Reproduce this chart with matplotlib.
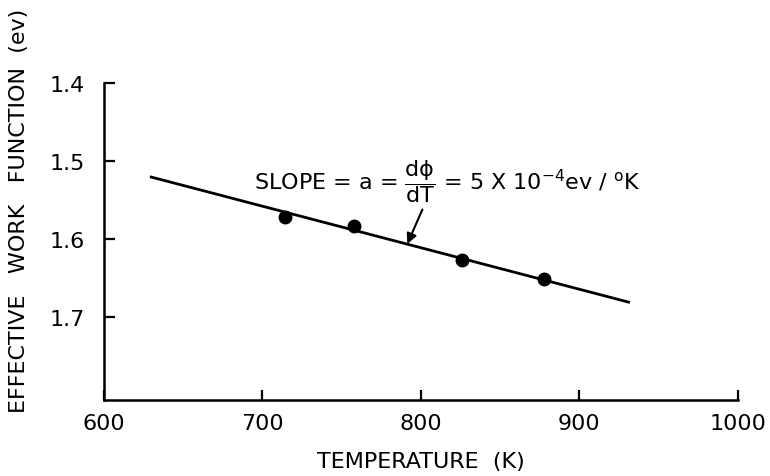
import matplotlib
matplotlib.use("Agg")
import matplotlib.pyplot as plt

# --- data ---
temp_k = [714, 758, 826, 878]
work_fn = [1.572, 1.583, 1.627, 1.651]
fit_t = [629, 932]
fit_phi = [1.520, 1.681]

x_ticks = [600, 700, 800, 900, 1000]
y_ticks = [1.4, 1.5, 1.6, 1.7]

plt.rcParams["mathtext.fontset"] = "dejavusans"
plt.rcParams["font.family"] = "DejaVu Sans"

fig = plt.figure(figsize=(7.7, 4.77), dpi=100)
ax = fig.add_axes([0.135, 0.159, 0.823, 0.665])

ax.plot(fit_t, fit_phi, color="black", lw=2.0, solid_capstyle="butt")
ax.plot(temp_k, work_fn, "o", color="black", ms=9)

ax.set_xlim(600, 1000)
ax.set_ylim(1.806, 1.4)
ax.set_xticks(x_ticks)
ax.set_yticks(y_ticks)
ax.set_yticklabels([f"{v:.1f}" for v in y_ticks])

for side in ["top", "right"]:
    ax.spines[side].set_visible(False)
for side in ["left", "bottom"]:
    ax.spines[side].set_linewidth(1.8)

ax.tick_params(axis="both", direction="in", width=1.6, labelsize=16)
ax.tick_params(axis="y", length=8, pad=14)
ax.tick_params(axis="x", length=7, pad=9)

ax.set_xlabel("TEMPERATURE  (K)", fontsize=16)
ax.xaxis.set_label_coords(0.5, -0.16)
ax.set_ylabel("EFFECTIVE   WORK   FUNCTION  (ev)", fontsize=16)
ax.yaxis.set_label_coords(-0.118, 0.60)

ax.text(695, 1.525,
        r"SLOPE = a = $\dfrac{\mathrm{dϕ}}{\mathrm{dT}}$ = 5 X 10$^{-4}$ev / $^{\mathrm{o}}$K",
        fontsize=16, va="center", ha="left")

ax.annotate("", xy=(791.5, 1.606), xytext=(801, 1.562),
            arrowprops=dict(arrowstyle="-|>", color="black", lw=1.5,
                            mutation_scale=15, shrinkA=0, shrinkB=0))

fig.savefig("out.png", dpi=100)
